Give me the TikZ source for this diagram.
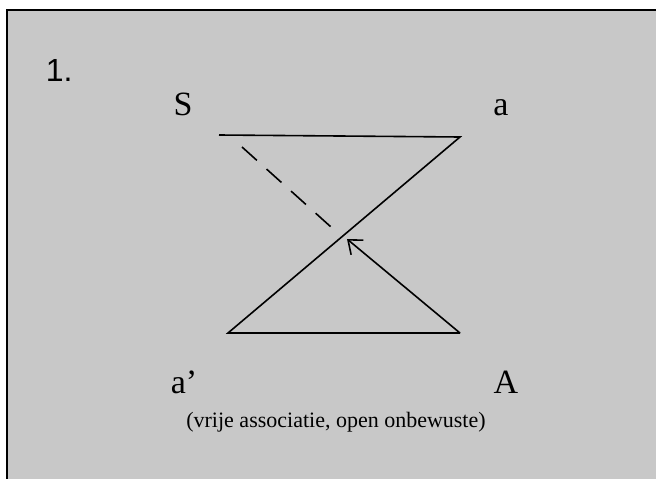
\documentclass[tikz,border=0pt]{standalone}
\usepackage{fontspec}
\setmainfont{Liberation Serif}
\newfontfamily\numfont{Liberation Sans}
\usetikzlibrary{arrows.meta}
\definecolor{panelgray}{RGB}{200,200,200}

\begin{document}
\begin{tikzpicture}[
    x=1pt, y=-1pt,
    line width=1.6pt,
    letter/.style={anchor=base, inner sep=0pt, font=\fontsize{34}{40}\selectfont},
    caption/.style={anchor=base, inner sep=0pt, font=\fontsize{22}{26}\selectfont},
    back/.style={dash pattern=on 20pt off 13pt}
]
\useasboundingbox (0,0) rectangle (656,479);
\filldraw[fill=panelgray, line width=2pt] (7,10) rectangle (680,500);

% labels
\node[anchor=base west, inner sep=0pt, font=\numfont\fontsize{32}{36}\selectfont] (num) at (45,81) {1.};
\node[letter] (S) at (183,115) {S};
\node[letter] (a) at (501,115) {a};
\node[letter] (aprime) at (184,393) {a’};
\node[letter] (A) at (506,393) {A};
\node[caption] (note) at (336,427) {(vrije associatie, open onbewuste)};

% the Z-schema
\coordinate (tl) at (219,135);
\coordinate (tr) at (460,137);
\coordinate (bl) at (228,333);
\coordinate (br) at (460,333);
\coordinate (tip) at (347,239);
\coordinate (ds) at (242,147);
\coordinate (de) at (331,227);

\draw (tl) -- (tr) -- (bl) -- (br);
\draw[-{Straight Barb[length=12pt,width=19pt]}] (br) -- (tip);
\draw[back] (ds) -- (de);
\end{tikzpicture}
\end{document}
